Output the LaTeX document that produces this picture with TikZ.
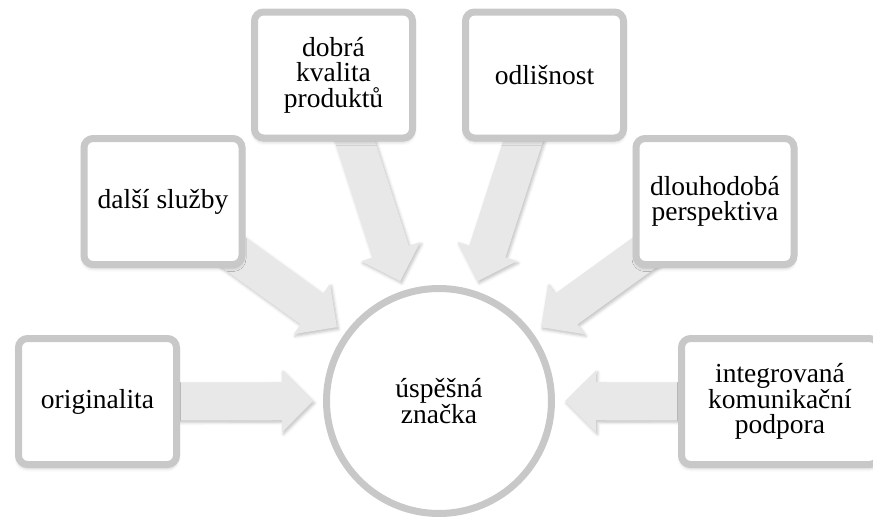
\documentclass[tikz,border=0pt]{standalone}
\usepackage{fontspec}
\setmainfont{Liberation Serif}
\usetikzlibrary{calc,shadows.blur}
\pgfdeclarelayer{back}
\pgfsetlayers{back,main}
\definecolor{ringgray}{HTML}{C8C8C8}
\definecolor{arrowgray}{HTML}{E8E8E8}
\tikzset{
  label font/.style={font=\fontsize{27.5}{25.5}\selectfont},
  itembox/.style={draw=ringgray, line width=7pt, fill=white, rounded corners=9pt,
    minimum width=158pt, minimum height=126pt, inner sep=0pt, align=center, label font,
    blur shadow={shadow xshift=0pt, shadow yshift=-3pt, shadow blur radius=4pt, shadow opacity=30}},
  hub/.style={circle, draw=ringgray, line width=7pt, fill=white, minimum size=225pt,
    inner sep=0pt, align=center, label font},
  flow/.style={fill=arrowgray,
    blur shadow={shadow xshift=1.5pt, shadow yshift=-2pt, shadow blur radius=3pt, shadow opacity=25}},
}
% wide block arrow from the centre of #1 towards the centre of #2,
% stopping short of the hub's ring
\newcommand\blockarrow[2]{%
  \coordinate (T) at ($(#2.center)!126pt!(#1.center)$);
  \coordinate (H) at ($(T)!31pt!(#1.center)$);
  \fill[flow] ($(#1.center)!19pt!90:(T)$) -- ($(H)!19pt!90:(T)$) -- ($(H)!31pt!90:(T)$)
    -- (T) -- ($(H)!31pt!-90:(T)$) -- ($(H)!19pt!-90:(T)$) -- ($(#1.center)!19pt!-90:(T)$) -- cycle;
}
\begin{document}
\begin{tikzpicture}[x=1pt,y=-1pt]
\useasboundingbox (0,0) rectangle (873,517);
\clip (0,0) rectangle (873,517);
\node[hub] (hub) at (439,401) {úspěšná\\značka};
\node[itembox] (orig) at (97.5,401.5) {originalita};
\node[itembox] (serv) at (163,201.5) {další služby};
\node[itembox] (qual) at (333.5,75) {dobrá\\kvalita\\produktů};
\node[itembox] (diff) at (544.5,75) {odlišnost};
\node[itembox] (long) at (715,201.5) {dlouhodobá\\perspektiva};
\node[itembox, minimum width=197pt] (comm) at (780,401.5) {integrovaná\\komunikační\\podpora};
\begin{pgfonlayer}{back}
  \foreach \b in {orig,serv,qual,diff,long,comm} {\blockarrow{\b}{hub}}
\end{pgfonlayer}
\end{tikzpicture}
\end{document}
